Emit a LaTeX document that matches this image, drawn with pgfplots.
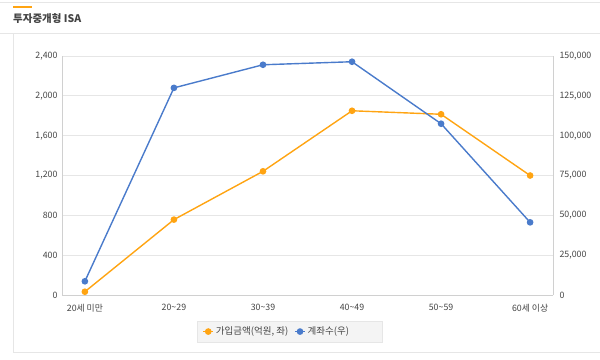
\documentclass[border=0pt]{standalone}
\usepackage{fontspec}
\setmainfont{Noto Sans CJK KR}
\usepackage{pgfplots}
\pgfplotsset{compat=1.18}
\definecolor{cOr}{HTML}{FFA412}
\definecolor{cBl}{HTML}{4A7BCB}
\definecolor{cTx}{HTML}{444444}
\definecolor{cGr}{HTML}{E6E6E6}
\definecolor{cAx}{HTML}{D0D0D0}
\definecolor{cLg}{HTML}{F4F4F4}
\pgfplotsset{
  common/.style={
    at={(62pt,-295pt)}, anchor=south west, scale only axis,
    width=491pt, height=239pt,
    xmin=-0.257, xmax=5.257, ymin=0,
    xtick={0,...,5},
    major tick length=0pt,
    axis line style={cAx, line width=0.8pt},
    tick label style={font=\fontsize{8.8}{10}\selectfont, text=cTx},
    /pgf/number format/assume math mode=true,
    /pgf/number format/fixed,
    /pgf/number format/precision=0,
    /pgf/number format/1000 sep={,},
    scaled y ticks=false,
    clip=false,
  },
  ser/.style={line width=1.4pt, mark=*, mark size=2.6pt, mark options={solid}},
}
\begin{document}
\begin{tikzpicture}[x=1pt,y=-1pt]
\path[use as bounding box] (0,0) rectangle (600,359);
\draw[cGr, line width=1pt] (0,2) -- (600,2);
\draw[cOr, line width=2pt] (13,7) -- (32,7);
\node[anchor=base west, font=\bfseries\fontsize{10.5}{12}\selectfont, text=cTx, inner sep=0pt] at (13,22) {투자중개형 ISA};
\draw[cGr, line width=1pt] (0,33.5) -- (600,33.5);
\draw[cGr, line width=1pt] (13.5,33.5) -- (13.5,352.5) -- (600,352.5);

\begin{axis}[common,
  ymax=2400, ytick={0,400,...,2400},
  axis y line*=left, axis x line*=bottom,
  ymajorgrids, grid style={cGr, line width=0.8pt},
  xticklabels={20세 미만,20\textasciitilde29,30\textasciitilde39,40\textasciitilde49,50\textasciitilde59,60세 이상},
  yticklabel style={xshift=-1pt},
  xticklabel style={yshift=-6pt},
]
\addplot[ser, color=cOr] coordinates {(0,33) (1,757) (2,1242) (3,1850) (4,1815) (5,1200)};
\end{axis}

\begin{axis}[common,
  ymax=150000, ytick={0,25000,...,150000},
  axis y line*=right, axis x line=none,
  yticklabel style={xshift=3pt},
  legend columns=2,
  legend style={at={(0.464,-0.153)}, anchor=center, fill=cLg, draw=cGr,
    font=\fontsize{9.5}{11}\selectfont, text=cTx,
    /tikz/every even column/.append style={column sep=4pt},
    inner xsep=5pt, inner ysep=4pt},
  legend image code/.code={\draw[mark repeat=2,mark phase=2] plot coordinates {(0pt,0pt) (5pt,0pt) (10pt,0pt)};},
]
\addlegendimage{ser, color=cOr}
\addlegendentry{가입금액(억원, 좌)}
\addplot[ser, color=cBl] coordinates {(0,8600) (1,130000) (2,144500) (3,146400) (4,107500) (5,45600)};
\addlegendentry{계좌수(우)\hspace*{26pt}}
\end{axis}
\end{tikzpicture}
\end{document}
